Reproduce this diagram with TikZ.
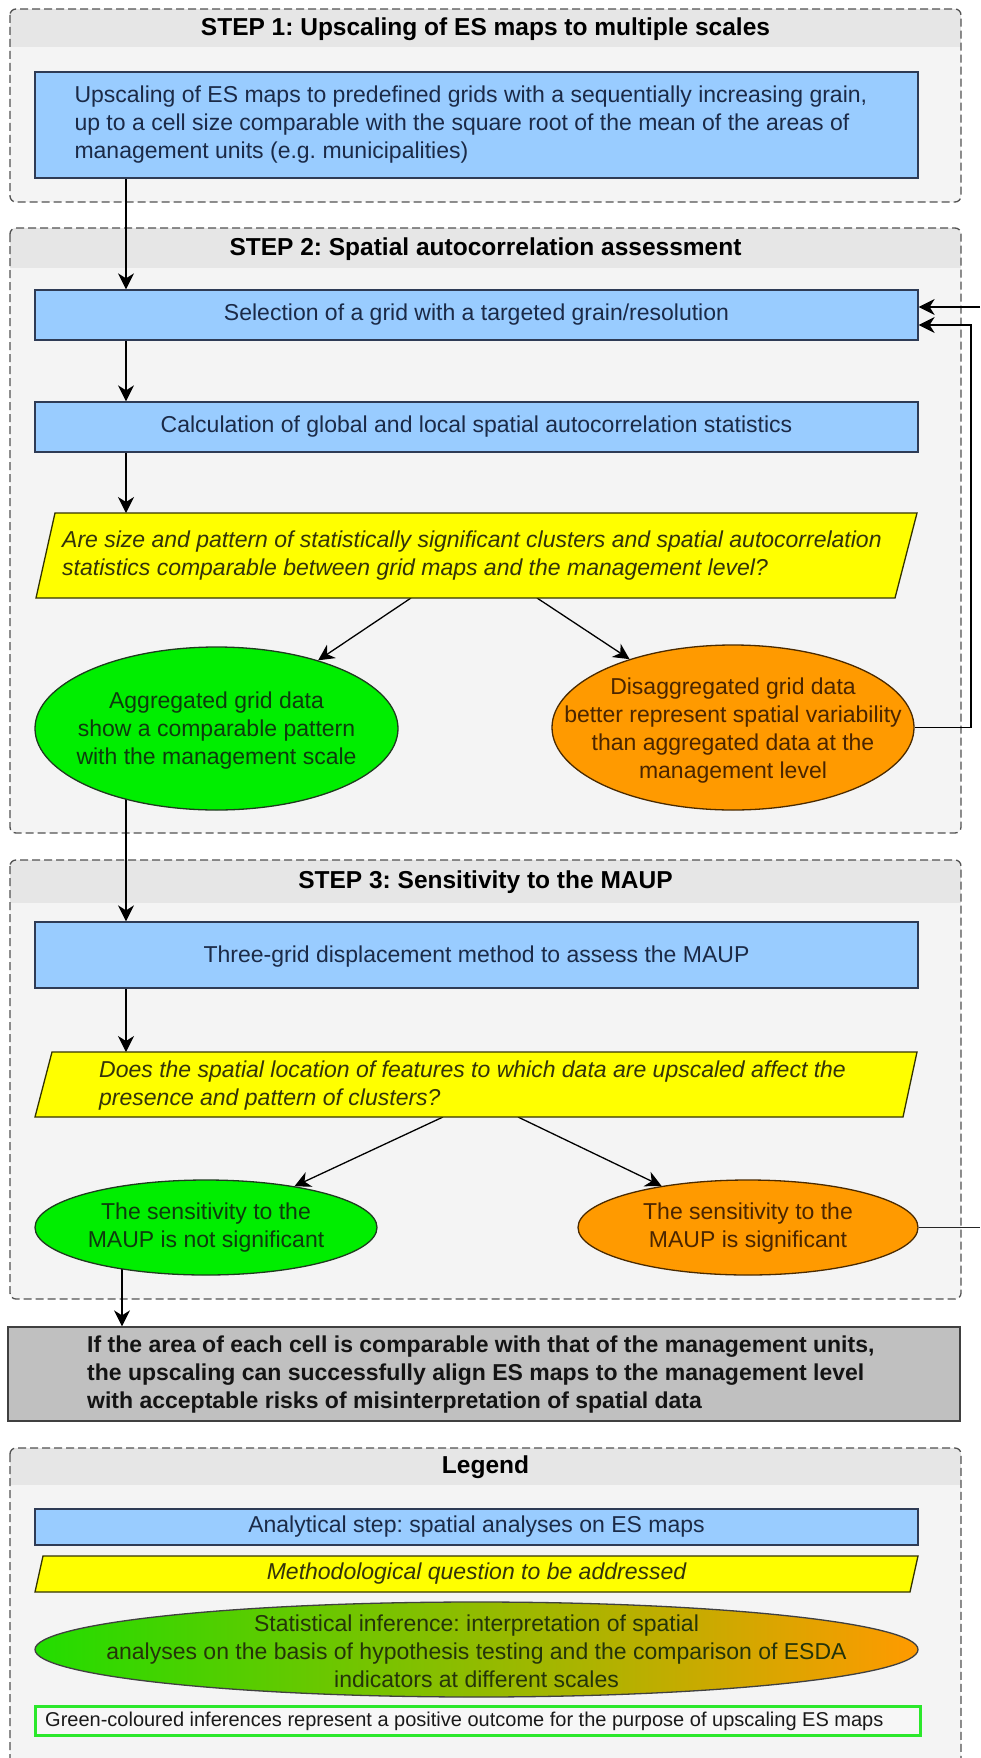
\documentclass[tikz,border=0pt]{standalone}
\usepackage{fontspec}
\setmainfont{Liberation Sans}
\usetikzlibrary{arrows.meta,shapes.geometric}
\pgfdeclarelayer{frames}
\pgfdeclarelayer{lines}
\pgfsetlayers{frames,lines,main}
\frenchspacing

\definecolor{boxblue}{HTML}{99CCFF}
\definecolor{boxline}{HTML}{2E3B55}
\definecolor{bluetxt}{HTML}{1B2A47}
\definecolor{qyellow}{HTML}{FFFF00}
\definecolor{qline}{HTML}{333300}
\definecolor{qtxt}{HTML}{33330A}
\definecolor{okgreen}{HTML}{00EE00}
\definecolor{gline}{HTML}{1F3A1F}
\definecolor{greentxt}{HTML}{0E3A0E}
\definecolor{warnorange}{HTML}{FF9A00}
\definecolor{oline}{HTML}{4A2A00}
\definecolor{orangetxt}{HTML}{4A2500}
\definecolor{framebg}{HTML}{F4F4F4}
\definecolor{headbg}{HTML}{E6E6E6}
\definecolor{resgray}{HTML}{C0C0C0}
\definecolor{legendgreen}{HTML}{2BE82B}
\definecolor{gradgreen}{HTML}{22DD00}
\definecolor{gradtxt}{HTML}{24340A}

\newcommand\myBody{\fontsize{23pt}{28pt}\selectfont}
\newcommand\myTitle{\fontsize{24.5pt}{28pt}\selectfont\bfseries}
\newcommand\mySmall{\fontsize{20pt}{24pt}\selectfont}

\newcommand\myFrame[5]{%
 \begin{pgfonlayer}{frames}
 \begin{scope}
 \clip[rounded corners=6pt] (10,#2) rectangle (961,#3);
 \fill[framebg] (10,#2) rectangle (961,#3);
 \fill[headbg] (10,#2) rectangle (961,#4);
 \end{scope}
 \draw[frameline] (10,#2) rectangle (961,#3);
 \end{pgfonlayer}
 \node[titletext] (#1) at (485.5,{(#2+#4)/2+1}) {#5};
}

\begin{document}
\begin{tikzpicture}[x=1pt,y=-1pt,
 stepbox/.style={draw=boxline, fill=boxblue, line width=1.3pt, minimum width=883pt, inner sep=0pt},
 bodytext/.style={font=\myBody, inner sep=0pt},
 btext/.style={bodytext, text=bluetxt},
 qtext/.style={font=\myBody\itshape, inner sep=0pt, text=qtxt, align=left},
 qshape/.style={draw=qline, fill=qyellow, line width=1.3pt},
 gshape/.style={ellipse, draw=gline, fill=okgreen, line width=1.3pt, inner sep=0pt},
 oshape/.style={ellipse, draw=oline, fill=warnorange, line width=1.3pt, inner sep=0pt},
 gtext/.style={bodytext, text=greentxt, align=center},
 otext/.style={bodytext, text=orangetxt, align=center},
 arr/.style={draw=black, line width=1.3pt, -{Stealth[length=16pt,width=16pt,inset=5pt]}},
 link/.style={draw=black!85, line width=1.3pt},
 frameline/.style={draw=black!68, line width=1.3pt, dash pattern=on 8pt off 4pt, rounded corners=6pt},
 titletext/.style={font=\myTitle, inner sep=0pt},
]
\useasboundingbox (0,0) rectangle (980,1758);
\begin{pgfonlayer}{frames}
\fill[white] (0,0) rectangle (980,1758);
\end{pgfonlayer}

% guides
\coordinate (ax) at (126,0);
\coordinate (ax2) at (122,0);
\coordinate (rail) at (971,0);
\coordinate (edge) at (980,0);

% ---------- STEP 1
\myFrame{t1}{9}{202}{47}{STEP 1: Upscaling of ES maps to multiple scales}
\node[stepbox, minimum height=106pt] (b1) at (476.5,125) {};
\node[btext, anchor=west, align=left] (b1t) at ([xshift=40pt]b1.west)
 {Upscaling of ES maps to predefined grids with a sequentially increasing grain,\\
  up to a cell size comparable with the square root of the mean of the areas of\\
  management units (e.g. municipalities)};

% ---------- STEP 2
\myFrame{t2}{228}{833}{268}{STEP 2: Spatial autocorrelation assessment}
\node[stepbox, minimum height=50pt] (b2) at (476.5,315) {};
\node[btext] (b2t) at (b2) {Selection of a grid with a targeted grain/resolution};
\node[stepbox, minimum height=50pt] (b3) at (476.5,427) {};
\node[btext] (b3t) at (b3) {Calculation of global and local spatial autocorrelation statistics};

\coordinate (q1nw) at (55,513);
\coordinate (q1ne) at (917,513);
\coordinate (q1se) at (895,598);
\coordinate (q1sw) at (36,598);
\draw[qshape] (q1nw) -- (q1ne) -- (q1se) -- (q1sw) -- cycle;
\node[qtext, anchor=west] (q1) at (62,556)
 {Are size and pattern of statistically significant clusters and spatial autocorrelation\\
  statistics comparable between grid maps and the management level?};

\node[gshape, minimum width=363pt, minimum height=163pt] (g1) at (216.5,728.5) {};
\node[gtext] (g1t) at ([yshift=-2pt]g1.center) {Aggregated grid data\\show a comparable pattern\\with the management scale};
\node[oshape, minimum width=362pt, minimum height=165pt] (o1) at (733,727.5) {};
\node[otext] (o1t) at ([yshift=-3pt]o1.center) {Disaggregated grid data\\better represent spatial variability\\than aggregated data at the\\management level};

% ---------- STEP 3
\myFrame{t3}{860}{1299}{903}{STEP 3: Sensitivity to the MAUP}
\node[stepbox, minimum height=66pt] (b4) at (476.5,955) {};
\node[btext] (b4t) at ([yshift=-2pt]b4.center) {Three-grid displacement method to assess the MAUP};

\coordinate (q2nw) at (52,1052);
\coordinate (q2ne) at (917,1052);
\coordinate (q2se) at (903,1117);
\coordinate (q2sw) at (35,1117);
\draw[qshape] (q2nw) -- (q2ne) -- (q2se) -- (q2sw) -- cycle;
\node[qtext, anchor=west] (q2) at (99,1086)
 {Does the spatial location of features to which data are upscaled affect the\\
  presence and pattern of clusters?};

\node[gshape, minimum width=342pt, minimum height=95pt] (g2) at (206,1227.5) {};
\node[gtext] (g2t) at (g2) {The sensitivity to the\\MAUP is not significant};
\node[oshape, minimum width=340pt, minimum height=95pt] (o2) at (748,1227.5) {};
\node[otext] (o2t) at (o2) {The sensitivity to the\\MAUP is significant};

% ---------- result
\node[draw=black!75, fill=resgray, line width=1.3pt, minimum width=952pt, minimum height=94pt, inner sep=0pt] (res) at (484,1374) {};
\node[font=\myBody\bfseries, text=black!92, align=left, anchor=west, inner sep=0pt] (rest) at (87,1375)
 {If the area of each cell is comparable with that of the management units,\\
  the upscaling can successfully align ES maps to the management level\\
  with acceptable risks of misinterpretation of spatial data};

% ---------- Legend
\myFrame{tL}{1448}{1790}{1485}{Legend}
\node[stepbox, minimum height=36pt] (l1) at (476.5,1527) {};
\node[btext] (l1t) at (l1) {Analytical step: spatial analyses on ES maps};
\coordinate (l2nw) at (43,1556);
\coordinate (l2ne) at (918,1556);
\coordinate (l2se) at (910,1592);
\coordinate (l2sw) at (35,1592);
\draw[qshape] (l2nw) -- (l2ne) -- (l2se) -- (l2sw) -- cycle;
\node[qtext] (l2t) at (476.5,1574) {Methodological question to be addressed};
\node[ellipse, draw=black!75, line width=1.3pt, left color=gradgreen, right color=warnorange,
 minimum width=883pt, minimum height=95pt, inner sep=0pt] (l3) at (476.5,1649.5) {};
\node[bodytext, text=gradtxt, align=center] (l3t) at ([yshift=-2pt]l3.center)
 {Statistical inference: interpretation of spatial\\
  analyses on the basis of hypothesis testing and the comparison of ESDA\\
  indicators at different scales};
\node[draw=legendgreen, line width=3pt, fill=white!97!black, minimum width=885pt, minimum height=29pt, inner sep=0pt] (l4) at (477.5,1720.5) {};
\node[font=\mySmall, text=black!90, anchor=west, inner sep=0pt] (l4t) at (45,1721)
 {Green-coloured inferences represent a positive outcome for the purpose of upscaling ES maps};

% ---------- connectors
\coordinate (q1s1) at (411,598);
\coordinate (q1s2) at (537,598);
\coordinate (q2s1) at (443,1117);
\coordinate (q2s2) at (518,1117);
\coordinate (inA) at (980,307);
\coordinate (inB) at ([yshift=-10pt]b2.east);
\begin{pgfonlayer}{lines}
\draw[arr] (b1.south -| ax) -- (b2.north -| ax);
\draw[arr] (b2.south -| ax) -- (b3.north -| ax);
\draw[arr] (b3.south -| ax) -- (q1nw -| ax);
\draw[arr] (q1s1) -- (g1);
\draw[arr] (q1s2) -- (o1);
\draw[arr] (g1.center -| ax) -- (b4.north -| ax);
\draw[arr] (b4.south -| ax) -- (q2nw -| ax);
\draw[arr] (q2s1) -- (g2);
\draw[arr] (q2s2) -- (o2);
\draw[arr] (g2.center -| ax2) -- (res.north -| ax2);
\draw[arr] (inA) -- (inA -| b2.east);
\draw[arr] (o1.east) -- (o1.east -| rail) -- (rail |- inB) -- (inB);
\draw[link] (o2.east) -- (o2.east -| edge);
\end{pgfonlayer}
\end{tikzpicture}
\end{document}
